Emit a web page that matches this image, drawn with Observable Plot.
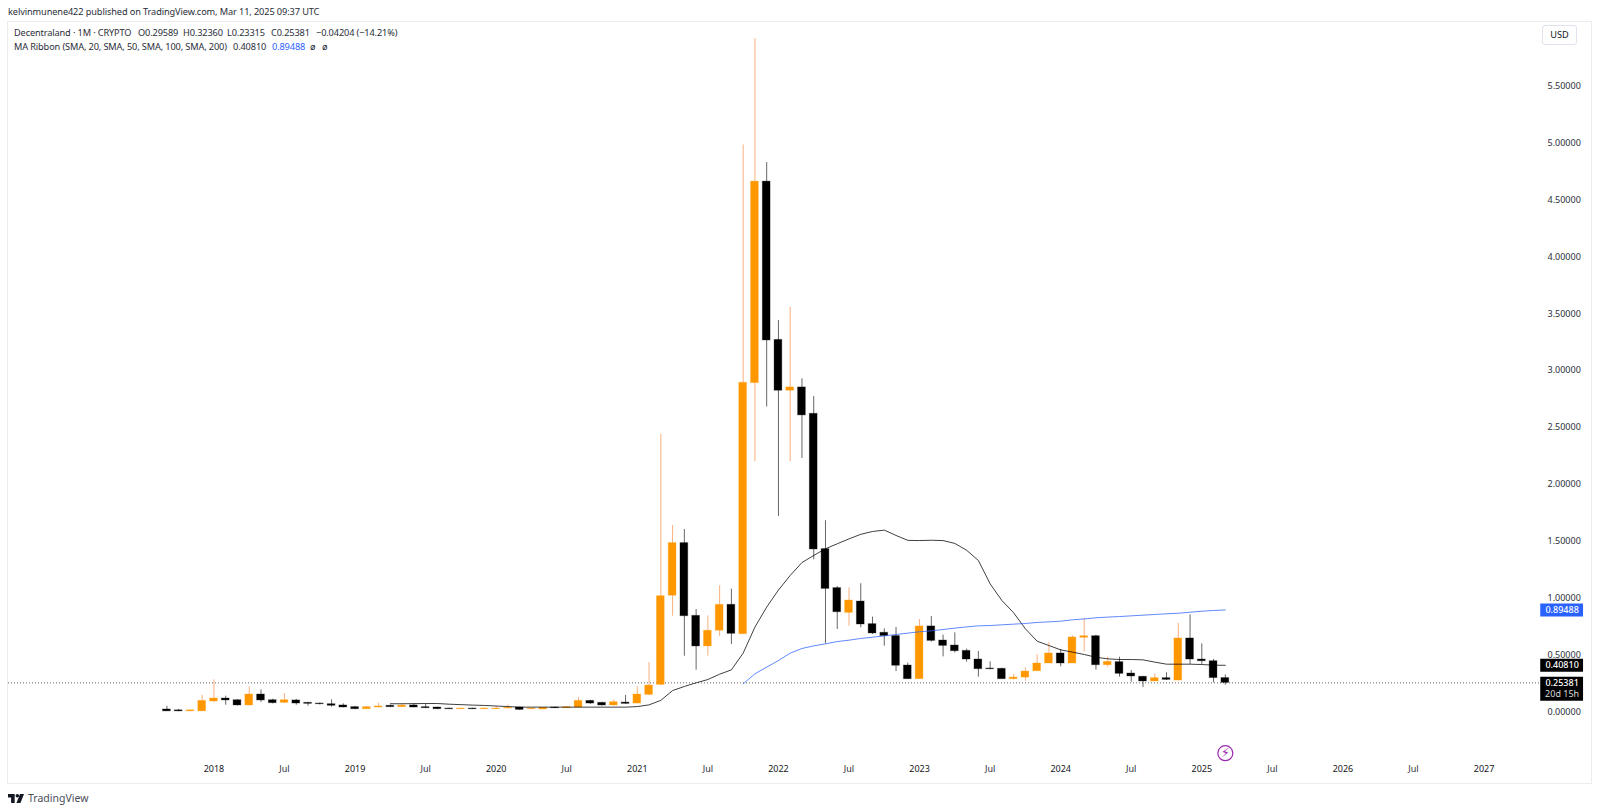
<!DOCTYPE html>
<html><head><meta charset="utf-8">
<script src="https://cdn.jsdelivr.net/npm/d3@7"></script>
<script src="https://cdn.jsdelivr.net/npm/@observablehq/plot@0.6"></script>
<style>
html,body{margin:0;padding:0;background:#fff;width:1600px;height:812px;overflow:hidden;font-family:"Noto Sans",sans-serif;color:#131722}
#head{position:absolute;left:8px;top:5px;font-size:9.2px;letter-spacing:-.1px;line-height:14px;white-space:nowrap;color:#2a2e39}
#panel{position:absolute;left:7px;top:21px;width:1585px;height:763px;box-sizing:border-box;border:1px solid #ececec}
#panel svg{display:block}
.leg{position:absolute;left:14px;font-size:9.2px;letter-spacing:-.12px;line-height:13px;white-space:nowrap;color:#2a2e39}
.leg span{position:absolute;top:0}
#usd{position:absolute;left:1542px;top:25px;width:35px;height:20px;box-sizing:border-box;border:1px solid #e0e3eb;border-radius:3px;font-size:9.2px;line-height:18px;text-align:center;background:#fff}
#foot{position:absolute;left:8px;top:792px;height:12px;display:flex;align-items:center;font-size:10.5px;color:#4a4e59}
#foot svg{margin-right:4px}
</style></head><body>
<div id="head">kelvinmunene422 published on TradingView.com, Mar 11, 2025 09:37 UTC</div>
<div id="panel"></div>
<div class="leg" style="top:26px"><span style="left:0">Decentraland · 1M · CRYPTO</span><span style="left:124px">O0.29589</span><span style="left:169px">H0.32360</span><span style="left:213px">L0.23315</span><span style="left:257px">C0.25381</span><span style="left:302px">−0.04204 (−14.21%)</span></div>
<div class="leg" style="top:39.5px"><span style="left:0">MA Ribbon (SMA, 20, SMA, 50, SMA, 100, SMA, 200)</span><span style="left:219px">0.40810</span><span style="left:258px;color:#2962ff">0.89488</span><span style="left:296px">ø</span><span style="left:308px">ø</span></div>
<div id="usd">USD</div>
<div id="foot"><svg width="16" height="9" viewBox="0 0 36 20" fill="#131722"><path d="M0 0H15V20H7V8H0Z"/><circle cx="21" cy="4" r="4"/><path d="M27 0H36L28 20H19Z"/></svg>TradingView</div>
<script>
// Monthly candles, Sep 2017 (index 0) to Mar 2025 (index 90)
const openP = [.0195,.012,.003,.003,.09,.116,.101,.055,.151,.101,.078,.099,.078,.072,.066,.055,.04,.022,.037,.052,.04,.055,.04,.037,.028,.022,.028,.022,.022,.028,.037,.022,.02,.037,.031,.037,.095,.078,.055,.08,.072,.148,.236,1.02,1.483,.843,.574,.712,.94,.682,2.89,4.662,3.27,2.823,2.852,2.62,1.43,1.087,.869,.969,.77,.694,.665,.406,.286,.75,.626,.582,.535,.459,.38,.377,.286,.3,.356,.424,.512,.424,.65,.664,.409,.436,.336,.307,.266,.295,.274,.644,.459,.444,.29589];
const closeP = [.003,.003,.012,.095,.116,.099,.055,.151,.099,.075,.101,.072,.069,.066,.052,.037,.022,.04,.046,.04,.054,.037,.031,.022,.022,.028,.022,.028,.028,.034,.016,.028,.034,.031,.04,.095,.072,.055,.084,.069,.151,.23,1.016,1.483,.84,.574,.712,.94,.685,2.893,4.662,3.265,2.823,2.852,2.606,1.427,1.08,.875,.978,.767,.688,.665,.404,.286,.75,.623,.579,.532,.459,.374,.374,.286,.3,.353,.424,.512,.424,.653,.664,.409,.438,.333,.31,.266,.295,.28,.644,.459,.444,.29589,.25381];
const highP = [.048,.02,.015,.143,.28,.137,.105,.219,.192,.11,.16,.107,.08,.076,.104,.069,.047,.046,.075,.057,.069,.07,.066,.04,.031,.031,.031,.033,.046,.06,.04,.031,.036,.04,.045,.125,.1,.083,.104,.143,.219,.433,2.44,1.638,1.603,.899,.843,1.107,1.078,4.984,5.92,4.83,3.44,3.556,2.928,2.773,1.68,1.1,1.09,1.125,.832,.729,.741,.427,.811,.837,.673,.694,.55,.53,.439,.383,.327,.386,.503,.606,.547,.667,.82,.673,.479,.479,.362,.31,.333,.342,.776,.852,.597,.46,.3236];
const lowP = [.002,0,.001,.002,.08,.057,.05,.05,.081,.069,.072,.057,.049,.06,.04,.034,.018,.019,.034,.037,.037,.034,.028,.019,.019,.019,.019,.019,.019,.025,.01,.019,.017,.028,.028,.03,.063,.05,.05,.066,.07,.14,.23,.84,.488,.365,.488,.661,.591,.68,2.2,2.68,1.717,2.2,2.227,1.336,.597,.723,.752,.738,.679,.576,.353,.286,.286,.612,.482,.517,.435,.304,.368,.286,.28,.268,.356,.424,.395,.424,.526,.365,.392,.304,.26,.213,.266,.274,.274,.415,.415,.254,.2332];
// MA Ribbon: SMA 20 begins at month index 19, SMA 200 is drawn from month index 49
const ma20Start = 19;
const ma20 = [.07,.07,.071,.072,.072,.066,.062,.058,.055,.05,.045,.04,.04,.04,.04,.04,.04,.04,.04,.04,.04,.045,.06,.1,.186,.222,.254,.283,.33,.368,.515,.744,.92,1.07,1.198,1.312,1.374,1.433,1.477,1.52,1.56,1.585,1.597,1.55,1.507,1.505,1.508,1.505,1.48,1.42,1.33,1.125,.978,.87,.729,.62,.582,.544,.524,.503,.479,.465,.459,.459,.456,.436,.418,.418,.418,.415,.409,.4081];
const ma200Start = 49;
const ma200 = [.245,.333,.392,.45,.515,.556,.579,.597,.617,.629,.644,.655,.667,.679,.691,.703,.711,.723,.735,.746,.755,.758,.764,.77,.776,.785,.79,.796,.808,.816,.826,.832,.837,.843,.849,.855,.861,.866,.875,.884,.89,.89488];
// Axis ticks
const yearTicks = [4,16,28,40,52,64,76,88,100,112];
const yearLabels = ["2018","2019","2020","2021","2022","2023","2024","2025","2026","2027"];
const julyTicks = [10,22,34,46,58,70,82,94,106];
const priceTicks = [0,.5,1,1.5,2,2.5,3,3.5,4,4.5,5,5.5];
const lastPrice = .25381, lastMA20 = .40810, lastMA200 = .89488;

const UP = "#ff9800", DOWN = "#000000", UP_WICK = "#f4792a";
const candles = openP.map((o,i)=>{const up=closeP[i]>=o;return {i,o,c:closeP[i],h:highP[i],l:lowP[i],col:up?UP:DOWN,wick:up?UP_WICK:DOWN};});
const ma20Rows = ma20.map((v,k)=>({i:k+ma20Start,v}));
const ma200Rows = ma200.map((v,k)=>({i:k+ma200Start,v}));
const yearMap = new Map(yearTicks.map((t,k)=>[t,yearLabels[k]]));

const chart = Plot.plot({
  width:1583, height:761,
  marginLeft:0, marginRight:49, marginTop:0, marginBottom:30,
  x:{type:"linear", domain:[-13.47,116.97]},
  y:{type:"linear", domain:[-.3676,6.0615]},
  style:{fontFamily:'"Noto Sans",sans-serif',fontSize:"9px",color:"#131722",background:"#fff",overflow:"visible"},
  marks:[
    Plot.ruleY([lastPrice],{stroke:"#666",strokeWidth:1,strokeDasharray:"1 2"}),
    Plot.ruleX(candles,{x:"i",y1:"l",y2:"h",stroke:"wick",strokeWidth:1,strokeOpacity:.6}),
    Plot.rect(candles,{x1:d=>d.i-.33,x2:d=>d.i+.33,y1:d=>Math.min(d.o,d.c),y2:d=>Math.max(d.o,d.c),fill:"col",stroke:"col",strokeOpacity:.3,strokeWidth:1}),
    Plot.line(ma20Rows,{x:"i",y:"v",stroke:"#000",strokeWidth:1,strokeOpacity:.75,curve:"linear"}),
    Plot.line(ma200Rows,{x:"i",y:"v",stroke:"#2962ff",strokeWidth:1,strokeOpacity:.75,curve:"linear"}),
    Plot.axisY({anchor:"right",ticks:priceTicks,tickSize:0,tickPadding:5,tickFormat:d3.format(".5f"),label:null,fill:"#2a2e39"}),
    Plot.axisX({anchor:"bottom",ticks:yearTicks,tickSize:0,tickPadding:12,tickFormat:d=>yearMap.get(d),label:null,fill:"#131722"}),
    Plot.axisX({anchor:"bottom",ticks:julyTicks,tickSize:0,tickPadding:12,tickFormat:()=>"Jul",label:null,fill:"#2a2e39"}),
    Plot.ruleY([lastMA200],{x1:116.82,x2:120.46,stroke:"#2962ff",strokeWidth:13}),
    Plot.ruleY([lastMA20],{x1:116.82,x2:120.46,stroke:"#000",strokeWidth:13}),
    Plot.ruleY([lastPrice],{x1:116.82,x2:120.46,stroke:"#000",strokeWidth:24,dy:6}),
    Plot.text([lastMA200],{y:d=>d,x:118.64,text:d=>d3.format(".5f")(d),fill:"#fff",fontWeight:500}),
    Plot.text([lastMA20],{y:d=>d,x:118.64,text:d=>d3.format(".5f")(d),fill:"#fff",fontWeight:500}),
    Plot.text([lastPrice],{y:d=>d,x:118.64,text:d=>d3.format(".5f")(d),fill:"#fff",fontWeight:500}),
    Plot.text([lastPrice],{y:d=>d,x:118.64,dy:11.5,text:()=>"20d 15h",fill:"#ddd"}),
    Plot.dot([90],{x:d=>d,y:()=>-.365,r:7.5,stroke:"#9c27b0",strokeWidth:1.2,fill:"#fff"}),
    Plot.text([90],{x:d=>d,y:()=>-.365,text:()=>"⚡",fill:"#9c27b0",fontSize:13,fontFamily:"DejaVu Sans"})
  ]
});
document.getElementById("panel").appendChild(chart);
</script>
</body></html>
